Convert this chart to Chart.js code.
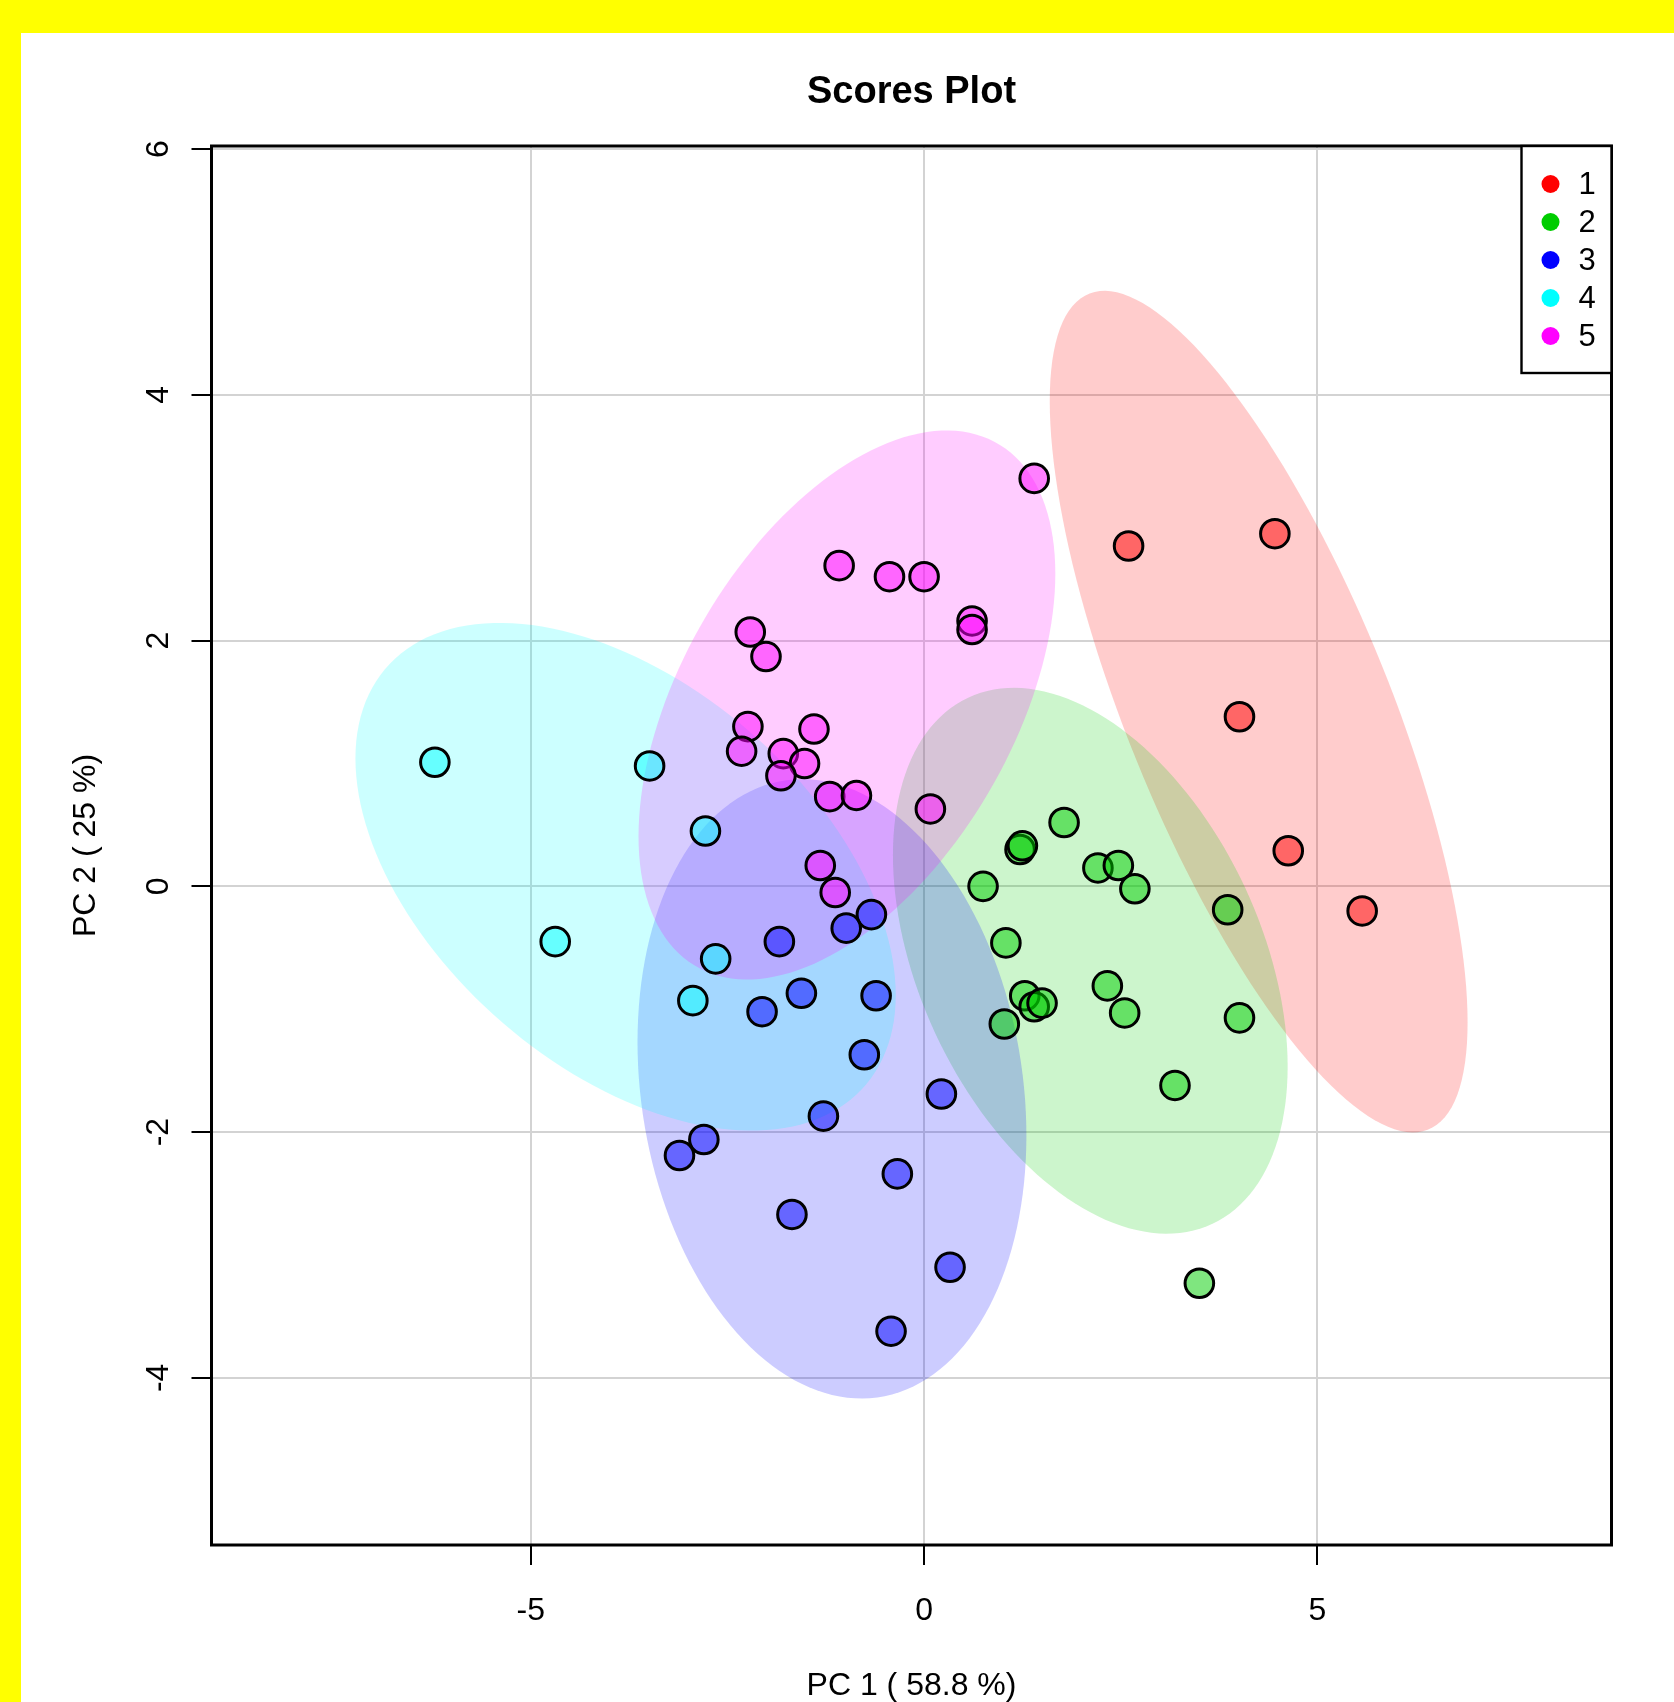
<!DOCTYPE html>
<html>
<head>
<meta charset="utf-8">
<title>Scores Plot</title>
<script src="https://cdn.jsdelivr.net/npm/chart.js@4.4.1/dist/chart.umd.min.js"></script>
<style>
  html, body { margin: 0; padding: 0; width: 1674px; height: 1702px; overflow: hidden; background: #ffff00; }
  #panel { position: absolute; left: 21px; top: 33px; width: 1653px; height: 1669px; background: #ffffff; }
  canvas { display: block; }
</style>
</head>
<body>
<div id="panel"><canvas id="scores" width="1653" height="1669"></canvas></div>
<script>
// PCA scores (PC 1, PC 2) for each class
const classLabels = ['1', '2', '3', '4', '5'];

const pc1Class1 = [2.60, 4.46, 4.01, 4.63, 5.57];
const pc2Class1 = [2.77, 2.87, 1.38, 0.29, -0.20];

const pc1Class2 = [1.78, 1.22, 1.25, 0.75, 2.21, 2.47, 2.68, 3.86, 1.04, 1.28, 1.40, 1.50, 2.33, 2.55, 4.01, 1.02, 3.19, 3.50];
const pc2Class2 = [0.52, 0.30, 0.33, 0.00, 0.15, 0.17, -0.02, -0.19, -0.46, -0.89, -0.98, -0.95, -0.81, -1.03, -1.07, -1.12, -1.62, -3.23];

const pc1Class3 = [-0.67, -0.99, -1.84, -1.56, -0.61, -2.06, -0.76, 0.22, -1.28, -2.80, -3.11, -0.34, -1.68, 0.33, -0.42];
const pc2Class3 = [-0.23, -0.34, -0.45, -0.87, -0.89, -1.02, -1.37, -1.69, -1.87, -2.06, -2.19, -2.34, -2.67, -3.10, -3.62];

const pc1Class4 = [-6.22, -3.49, -2.78, -4.69, -2.65, -2.94];
const pc2Class4 = [1.01, 0.98, 0.45, -0.45, -0.59, -0.93];

const pc1Class5 = [1.40, -1.08, -0.44, 0.00, 0.61, 0.61, -2.21, -2.01, -2.24, -1.40, -2.32, -1.79, -1.52, -1.82, -1.20, -0.86, 0.08, -1.32, -1.13];
const pc2Class5 = [3.32, 2.61, 2.52, 2.52, 2.16, 2.09, 2.07, 1.87, 1.30, 1.28, 1.10, 1.08, 1.00, 0.90, 0.73, 0.74, 0.63, 0.17, -0.05];

const xTickValues = [-5, 0, 5];
const yTickValues = [-4, -2, 0, 2, 4, 6];
const xLimits = [-9.06, 8.74];
const yLimits = [-5.36, 6.025];

const plotTitle = 'Scores Plot';
const xTitle = 'PC 1 ( 58.8 %)';
const yTitle = 'PC 2 ( 25 %)';

// R palette: red, green3, blue, cyan, magenta
const classColors = [[255, 0, 0], [0, 205, 0], [0, 0, 255], [0, 255, 255], [255, 0, 255]];
const pc1ByClass = [pc1Class1, pc1Class2, pc1Class3, pc1Class4, pc1Class5];
const pc2ByClass = [pc2Class1, pc2Class2, pc2Class3, pc2Class4, pc2Class5];

const FONT = '"Liberation Sans", Arial, Helvetica, sans-serif';
const rgba = (c, a) => `rgba(${c[0]},${c[1]},${c[2]},${a})`;

// 95% normal-theory ellipse from the sample mean and covariance
function confidenceEllipse(xs, ys, level95 = Math.sqrt(5.991465), segments = 160) {
  const n = xs.length;
  const mx = xs.reduce((s, v) => s + v, 0) / n;
  const my = ys.reduce((s, v) => s + v, 0) / n;
  let sxx = 0, syy = 0, sxy = 0;
  for (let i = 0; i < n; i++) {
    const dx = xs[i] - mx, dy = ys[i] - my;
    sxx += dx * dx; syy += dy * dy; sxy += dx * dy;
  }
  sxx /= (n - 1); syy /= (n - 1); sxy /= (n - 1);
  const a = Math.sqrt(sxx);
  const b = sxy / a;
  const c = Math.sqrt(Math.max(syy - b * b, 0));
  const pts = [];
  for (let k = 0; k < segments; k++) {
    const t = (2 * Math.PI * k) / segments;
    const u = Math.cos(t), v = Math.sin(t);
    pts.push([mx + level95 * a * u, my + level95 * (b * u + c * v)]);
  }
  return pts;
}

const datasets = classLabels.map((lab, i) => ({
  label: lab,
  data: pc1ByClass[i].map((x, j) => ({ x, y: pc2ByClass[i][j] })),
  backgroundColor: rgba(classColors[i], 0.5),
  borderColor: '#000000',
  borderWidth: 3,
  pointRadius: 14.3,
  pointHoverRadius: 14.3,
  order: classLabels.length - i
}));

const scoresDecor = {
  id: 'scoresDecor',
  beforeDatasetsDraw(chart) {
    const { ctx, chartArea: area, scales: { x, y } } = chart;
    ctx.save();
    ctx.beginPath();
    ctx.rect(area.left, area.top, area.right - area.left, area.bottom - area.top);
    ctx.clip();
    pc1ByClass.forEach((xs, i) => {
      const outline = confidenceEllipse(xs, pc2ByClass[i]);
      ctx.beginPath();
      outline.forEach(([px, py], k) => {
        const X = x.getPixelForValue(px), Y = y.getPixelForValue(py);
        if (k === 0) ctx.moveTo(X, Y); else ctx.lineTo(X, Y);
      });
      ctx.closePath();
      ctx.fillStyle = rgba(classColors[i], 0.2);
      ctx.fill();
    });
    ctx.restore();
  },
  afterDraw(chart) {
    const { ctx, chartArea: area, scales: { x, y } } = chart;
    const cx = (area.left + area.right) / 2;
    const cy = (area.top + area.bottom) / 2;
    ctx.save();

    // plot frame
    ctx.strokeStyle = '#000';
    ctx.lineWidth = 3;
    ctx.strokeRect(area.left, area.top, area.right - area.left, area.bottom - area.top);

    // title
    ctx.fillStyle = '#000';
    ctx.font = `bold 38px ${FONT}`;
    ctx.textAlign = 'center';
    ctx.textBaseline = 'alphabetic';
    ctx.fillText(plotTitle, cx, area.top - 43);

    // x tick labels
    ctx.font = `32px ${FONT}`;
    xTickValues.forEach(v => {
      ctx.fillText(String(v), x.getPixelForValue(v), area.bottom + 75);
    });

    // x axis title
    ctx.font = `32px ${FONT}`;
    ctx.fillText(xTitle, cx, area.bottom + 150);

    // y tick labels, parallel to the axis
    ctx.font = `32px ${FONT}`;
    yTickValues.forEach(v => {
      ctx.save();
      ctx.translate(area.left - 44, y.getPixelForValue(v));
      ctx.rotate(-Math.PI / 2);
      ctx.fillText(String(v), 0, 0);
      ctx.restore();
    });

    // y axis title
    ctx.font = `32px ${FONT}`;
    ctx.save();
    ctx.translate(area.left - 117, cy);
    ctx.rotate(-Math.PI / 2);
    ctx.fillText(yTitle, 0, 0);
    ctx.restore();

    // legend, top-right corner inside the frame
    const boxW = 90, boxH = 227;
    const bx = area.right - boxW, by = area.top;
    ctx.fillStyle = '#fff';
    ctx.fillRect(bx, by, boxW, boxH);
    ctx.strokeStyle = '#000';
    ctx.lineWidth = 2.4;
    ctx.strokeRect(bx, by, boxW, boxH);
    ctx.font = `31px ${FONT}`;
    ctx.textAlign = 'left';
    ctx.textBaseline = 'middle';
    chart.data.datasets.forEach((ds, i) => {
      const rowY = by + 38 + 38 * i;
      ctx.beginPath();
      ctx.arc(bx + 29, rowY, 9, 0, Math.PI * 2);
      ctx.fillStyle = rgba(classColors[i], 1);
      ctx.fill();
      ctx.fillStyle = '#000';
      ctx.fillText(ds.label, bx + 57, rowY + 1);
    });
    ctx.restore();
  }
};

new Chart(document.getElementById('scores'), {
  type: 'scatter',
  data: { datasets },
  options: {
    responsive: false,
    animation: false,
    devicePixelRatio: 1,
    events: [],
    layout: { padding: { top: 113, right: 62.5, bottom: 0, left: 0 } },
    plugins: { legend: { display: false }, title: { display: false }, tooltip: { enabled: false } },
    scales: {
      x: {
        type: 'linear',
        position: 'bottom',
        min: xLimits[0],
        max: xLimits[1],
        afterBuildTicks: axis => { axis.ticks = xTickValues.map(v => ({ value: v })); },
        afterFit: axis => { axis.height = 157; },
        ticks: { display: false },
        border: { display: false },
        grid: { color: '#d3d3d3', lineWidth: 2, drawTicks: true, tickLength: 20, tickColor: '#000', tickWidth: 2 }
      },
      y: {
        type: 'linear',
        position: 'left',
        min: yLimits[0],
        max: yLimits[1],
        afterBuildTicks: axis => { axis.ticks = yTickValues.map(v => ({ value: v })); },
        afterFit: axis => { axis.width = 190.5; },
        ticks: { display: false },
        border: { display: false },
        grid: { color: '#d3d3d3', lineWidth: 2, drawTicks: true, tickLength: 20, tickColor: '#000', tickWidth: 2 }
      }
    }
  },
  plugins: [scoresDecor]
});
</script>
</body>
</html>
